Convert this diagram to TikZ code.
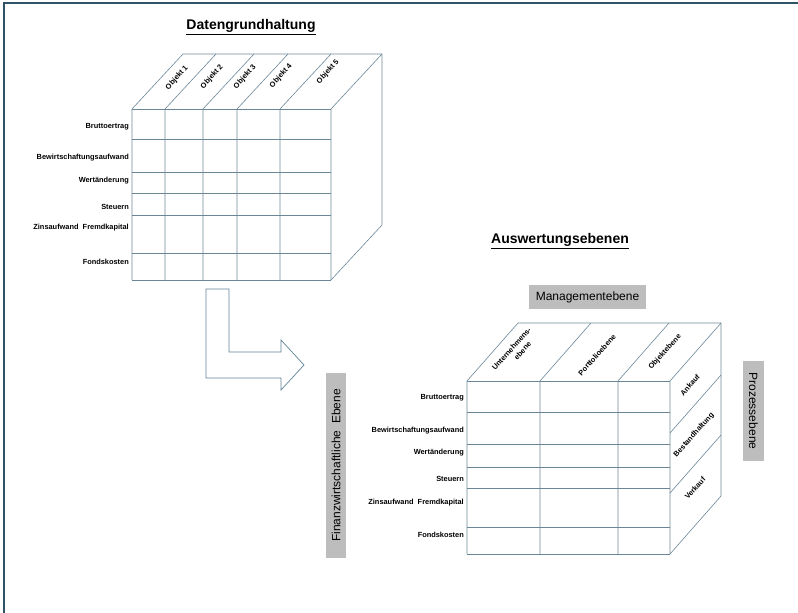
\documentclass[tikz,border=0pt]{standalone}
\usepackage{fontspec}
\setmainfont{Liberation Sans}
\usetikzlibrary{positioning}
\definecolor{gridLine}{HTML}{6B8797}
\definecolor{frameBlue}{HTML}{2F5468}
\definecolor{levelGray}{HTML}{BDBDBD}
\definecolor{arrowBlue}{HTML}{5E8197}

\begin{document}
\begin{tikzpicture}[x=1pt, y=-1pt,
  grid/.style={draw=gridLine, line width=0.6pt},
  rowlabel/.style={font=\bfseries\fontsize{7.4}{8.4}\selectfont, anchor=east, inner sep=0pt},
  toplabel/.style={font=\bfseries\fontsize{7.4}{9.5}\selectfont, rotate=48, inner sep=0pt, align=center},
  levelbox/.style={fill=levelGray, font=\fontsize{12}{14}\selectfont, inner sep=0pt},
  heading/.style={font=\bfseries\fontsize{14}{16}\selectfont}]
  \useasboundingbox (0,0) rectangle (798,613);
  \draw[frameBlue, line width=1.2pt] (4,613) -- (4,3) -- (798,3);

  % Datengrundhaltung
  \node[heading] (titleA) at (251,27) {\underline{Datengrundhaltung}};
  \foreach \y in {109,139,172,193,215,253,280}
    \draw[grid] (132,\y) -- (331,\y);
  \foreach \x in {132,165,203,237,280,331}
    \draw[grid] (\x,280) -- (\x,109) -- ++(51,-55);
  \draw[grid] (183,54) -- (382,54) -- (382,225) -- (331,280);

  \foreach \x/\y/\t [count=\i] in {177/78/Objekt 1, 212/77/Objekt 2, 245/77/Objekt 3,
      281/76/Objekt 4, 328/72/Objekt 5}
    \node[toplabel] (obj\i) at (\x,\y) {\t};

  \foreach \y/\t [count=\i] in {127/Bruttoertrag, 158/Bewirtschaftungsaufwand,
      181/Wertänderung, 207/Steuern, 228/Zinsaufwand~~Fremdkapital, 262/Fondskosten}
    \node[rowlabel] (rowA\i) at (129,\y) {\t};

  % Pfeil
  \draw[arrowBlue, line width=0.7pt] (206,289) -- (229,289) -- (229,352) -- (281,352)
    -- (281,340) -- (304,365) -- (281,390) -- (281,378) -- (206,378) -- cycle;

  % Auswertungsebenen
  \node[heading] (titleB) at (560,241) {\underline{Auswertungsebenen}};
  \node[levelbox, minimum width=117pt, minimum height=24pt] (mgmt) at (587.5,297) {Managementebene};
  \node[levelbox, rotate=-90, minimum width=100pt, minimum height=21pt] (prozess) at (753.5,411) {Prozessebene};
  \node[levelbox, rotate=90, minimum width=185pt, minimum height=20pt] (finanz) at (336,465.5) {Finanzwirtschaftliche\ \ Ebene};

  \foreach \y in {381,412,444,467,488,527,554}
    \draw[grid] (467,\y) -- (670,\y);
  \foreach \x in {467,540,618,670}
    \draw[grid] (\x,554) -- (\x,381) -- ++(51,-58);
  \draw[grid] (518,323) -- (721,323) -- (721,496) -- (670,554);
  \foreach \y in {433,493}
    \draw[grid] (670,\y) -- ++(51,-58);

  \node[toplabel] (unternehmen) at (515,352) {Unternehmens-\\\hspace*{12pt}ebene};
  \node[toplabel] (portfolio) at (597,355) {Portfolioebene};
  \node[toplabel] (objekt) at (665,352) {Objektebene};
  \node[toplabel] (ankauf) at (690,385) {Ankauf};
  \node[toplabel] (bestand) at (694,435) {Bestandhaltung};
  \node[toplabel] (verkauf) at (695,488) {Verkauf};

  \foreach \y/\t [count=\i] in {398/Bruttoertrag, 431/Bewirtschaftungsaufwand,
      453/Wertänderung, 479/Steuern, 503/Zinsaufwand~~Fremdkapital, 535/Fondskosten}
    \node[rowlabel] (rowB\i) at (464,\y) {\t};
\end{tikzpicture}
\end{document}
